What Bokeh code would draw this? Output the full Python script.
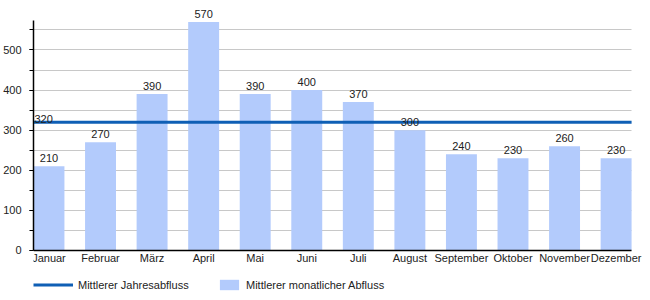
from bokeh.plotting import figure
from bokeh.models import (Range1d, FixedTicker, SingleIntervalTicker, LabelSet,
                          Label, ColumnDataSource, Legend, LegendItem)
from bokeh.core.properties import value
from bokeh.embed import file_html
from bokeh.resources import INLINE

months = ["Januar", "Februar", "März", "April", "Mai", "Juni", "Juli",
          "August", "September", "Oktober", "November", "Dezember"]
values = [210, 270, 390, 570, 390, 400, 370, 300, 240, 230, 260, 230]
annual = 320
bar_name = "Mittlerer monatlicher Abfluss"
line_name = "Mittlerer Jahresabfluss"

FONT = "Liberation Sans"
FS = "11px"
BAR_COLOR = "#b3cbfc"
LINE_COLOR = "#0f5fb5"

xs = list(range(len(months)))
x_start, x_end = -0.3, len(months) - 0.7
view_end = x_end + 0.27
y_axis_top = 573
src = ColumnDataSource(dict(x=xs, v=values, t=[str(v) for v in values]))

p = figure(width=650, height=300, x_range=Range1d(x_start, view_end),
           y_range=Range1d(-125, 616), output_backend="svg", toolbar_location=None,
           min_border_left=31, min_border_right=5, min_border_top=3,
           min_border_bottom=0)
p.outline_line_color = None
p.background_fill_color = "white"

bars = p.vbar(x="x", top="v", width=0.6, source=src, fill_color=BAR_COLOR,
              line_color=None)
ln = p.line(x=[x_start, x_end], y=[annual, annual], line_color=LINE_COLOR,
            line_width=3)

labels = LabelSet(x="x", y="v", text="t", source=src, text_align="center",
                  text_baseline="alphabetic", y_offset=4, text_font=value(FONT),
                  text_font_size=value(FS), text_color="#222222")
p.add_layout(labels)
p.add_layout(Label(x=x_start, y=annual, text=str(annual), x_offset=1, y_offset=3,
                   text_baseline="alphabetic", text_font=FONT, text_font_size=FS,
                   text_color="#222222"))

# x axis, drawn at y = 0 inside the frame
p.xaxis.fixed_location = 0
p.xaxis.bounds = (x_start, x_end)
p.xaxis.ticker = FixedTicker(ticks=xs)
p.xaxis.major_label_overrides = {i: m for i, m in enumerate(months)}
p.xaxis.major_tick_out = 0
p.xaxis.major_tick_in = 0
p.xaxis.major_tick_line_color = None
p.xaxis.minor_tick_line_color = None
p.xaxis.axis_line_color = "black"
p.xaxis.axis_line_width = 1.5
p.xaxis.major_label_standoff = 2
p.xaxis.major_label_text_font = FONT
p.xaxis.major_label_text_font_size = FS
p.xaxis.major_label_text_color = "#222222"
p.xgrid.grid_line_color = None

# y axis
p.yaxis.bounds = (0, y_axis_top)
p.yaxis.ticker = SingleIntervalTicker(interval=100, num_minor_ticks=2)
p.yaxis.axis_line_color = "black"
p.yaxis.axis_line_width = 1.5
p.yaxis.major_tick_in = 0
p.yaxis.major_tick_out = 4
p.yaxis.minor_tick_in = 0
p.yaxis.minor_tick_out = 4
p.yaxis.major_tick_line_color = "black"
p.yaxis.minor_tick_line_color = "black"
p.yaxis.major_label_standoff = 8
p.yaxis.major_label_text_font = FONT
p.yaxis.major_label_text_font_size = FS
p.yaxis.major_label_text_color = "#222222"
p.ygrid.ticker = SingleIntervalTicker(interval=50)
p.ygrid.bounds = (0, y_axis_top)
p.ygrid.cross_bounds = (x_start, x_end)
p.ygrid.grid_line_color = "#c8c8c8"
p.ygrid.grid_line_width = 1

common = dict(orientation="horizontal", border_line_color=None,
              background_fill_alpha=0, padding=0, margin=0, spacing=0,
              label_text_font=FONT, label_text_font_size=FS,
              label_text_color="#222222", label_standoff=5, glyph_height=13)
leg1 = Legend(items=[LegendItem(label=line_name, renderers=[ln])],
              location=(0, 9), glyph_width=40, **common)
leg2 = Legend(items=[LegendItem(label=bar_name, renderers=[bars])],
              location=(184, 9), glyph_width=24, **common)
p.add_layout(leg1)
p.add_layout(leg2)

open("out.html", "w").write(file_html(p, INLINE))
